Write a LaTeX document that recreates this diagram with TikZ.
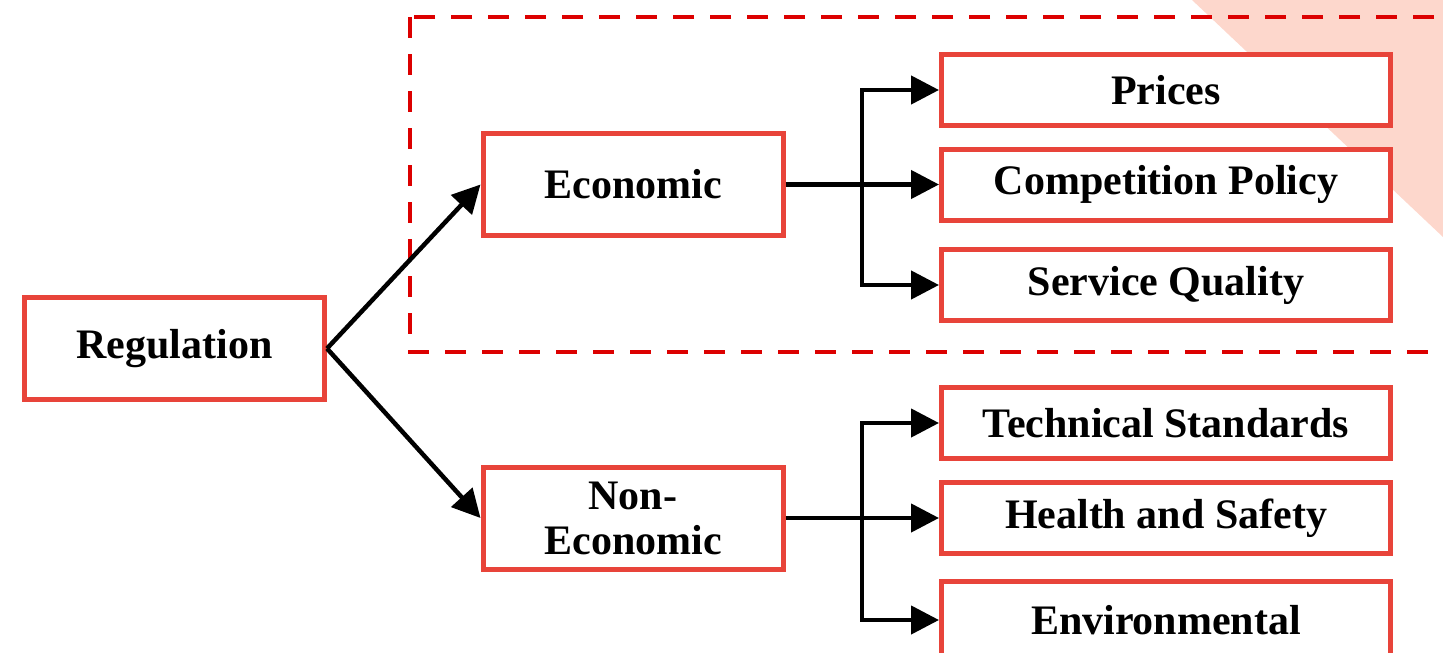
\documentclass[tikz,border=0pt]{standalone}
\usepackage{fontspec}
\setmainfont{Liberation Serif}
\usepackage{xcolor}
\usepackage{tikz}
\usetikzlibrary{arrows.meta,positioning}
\definecolor{boxred}{HTML}{E8443A}
\definecolor{dashred}{HTML}{DC0000}
\definecolor{bgpink}{HTML}{FDD7CC}
\tikzstyle{arrow} = [line width=4.5pt,-{Triangle[length=28pt,width=28pt]}]
\tikzstyle{bigbox} = [draw=boxred,fill=white,line width=5pt,minimum width=300pt,minimum height=102pt,align=center,font=\fontsize{42}{45}\selectfont\bfseries]
\tikzstyle{smallbox} = [bigbox,minimum width=449pt,minimum height=71pt]

\begin{document}
\begin{tikzpicture}[x=1pt,y=-1pt]
            % basics
            \useasboundingbox (0,0) rectangle (1443,653);
            \clip (0,0) rectangle (1443,653);
            \fill [bgpink] (1192,0) -- (1443,0) -- (1443,237) -- cycle;
            \draw [dashred, line width=4.5pt, dash pattern=on 21pt off 16pt] (410,17) rectangle (1475,352);
            % boxes
            \node [bigbox] (reg) at (174.5,348.5) {Regulation};
            \node [bigbox] (eco) at (633,184.5) {Economic};
            \node [bigbox] (noneco) at (633,518) {Non-\\Economic};
            \node [smallbox] (prices) at (1166,90) {Prices};
            \node [smallbox] (comp) at (1166,184.5) {Competition Policy};
            \node [smallbox] (service) at (1166,285) {Service Quality};
            \node [smallbox] (tech) at (1166,423) {Technical Standards};
            \node [smallbox] (health) at (1166,518) {Health and Safety};
            \node [smallbox, minimum height=78pt] (env) at (1166,620) {Environmental};
            % arrows
            \coordinate (ecofork) at (862,184.5);
            \coordinate (nonecofork) at (862,518);
            \draw [arrow] (reg.east) -- (eco.west);
            \draw [arrow] (reg.east) -- (noneco.west);
            \draw [arrow] (eco.east) -- (comp.west);
            \draw [arrow] (ecofork) |- (prices.west);
            \draw [arrow] (ecofork) |- (service.west);
            \draw [arrow] (noneco.east) -- (health.west);
            \draw [arrow] (nonecofork) |- (tech.west);
            \draw [arrow] (nonecofork) |- (env.west);
        \end{tikzpicture}
\end{document}
